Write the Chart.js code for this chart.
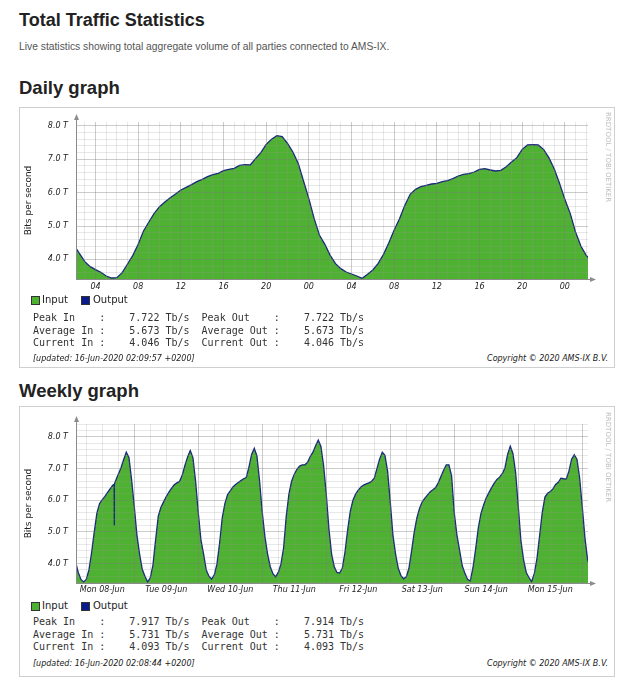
<!DOCTYPE html>
<html>
<head>
<meta charset="utf-8">
<script src="https://cdn.jsdelivr.net/npm/chart.js@4.4.1/dist/chart.umd.min.js"></script>
<style>
  body { margin: 0; background: #fff; font-family: "Liberation Sans", Arial, sans-serif; color: #333; }
  #page { position: relative; width: 641px; height: 680px; overflow: hidden; }
  .abs { position: absolute; white-space: pre; }
  .h1 { font-weight: bold; font-size: 18px; line-height: 20px; color: #222; }
  .sub { font-size: 10.3px; line-height: 14px; color: #555; }
  .h2 { font-weight: bold; font-size: 18.5px; line-height: 24px; color: #222; }
  .box { position: absolute; left: 19px; width: 594px; border: 1px solid #cfcfcf; background: #fff; }
  canvas { position: absolute; left: 19px; }
  .leg { font-family: "DejaVu Sans", sans-serif; font-size: 10px; line-height: 12px; color: #222; }
  .sq { position: absolute; width: 7px; height: 7px; border: 1px solid #333; }
  .stats { font-family: "DejaVu Sans Mono", monospace; font-size: 10px; line-height: 12.7px; color: #333; }
  .foot { font-family: "DejaVu Sans", sans-serif; font-style: italic; font-size: 8px; line-height: 10px; color: #222; }
  .wm { font-family: "DejaVu Sans", sans-serif; font-size: 7px; color: #bdbdbd; writing-mode: vertical-rl; line-height: 7px; }
</style>
</head>
<body>
<div id="page">
  <div class="abs h1" style="left:19px; top:10px;">Total Traffic Statistics</div>
  <div class="abs sub" style="left:19px; top:40px;">Live statistics showing total aggregate volume of all parties connected to AMS-IX.</div>

  <div class="abs h2" style="left:19px; top:76px;">Daily graph</div>
  <div class="box" style="top:107px; height:259px;"></div>
  <canvas id="daily" width="596" height="190" style="top:107px;"></canvas>
  <div class="abs wm" style="left:604px; top:112px;">RRDTOOL / TOBI OETIKER</div>
  <div class="sq" style="left:31px; top:296px; background:#4fb131;"></div>
  <div class="abs leg" style="left:42px; top:294px;">Input</div>
  <div class="sq" style="left:81px; top:296px; background:#0a1a8a;"></div>
  <div class="abs leg" style="left:93px; top:294px;">Output</div>
  <div class="abs stats" id="dailyStats" style="left:33px; top:312px;"></div>
  <div class="abs foot" style="left:33px; top:354px;">[updated: 16-Jun-2020 02:09:57 +0200]</div>
  <div class="abs foot" style="right:33px; top:354px;">Copyright © 2020 AMS-IX B.V.</div>

  <div class="abs h2" style="left:19px; top:379px;">Weekly graph</div>
  <div class="box" style="top:406px; height:269px;"></div>
  <canvas id="weekly" width="596" height="192" style="top:406px;"></canvas>
  <div class="abs wm" style="left:604px; top:412px;">RRDTOOL / TOBI OETIKER</div>
  <div class="sq" style="left:31px; top:602px; background:#4fb131;"></div>
  <div class="abs leg" style="left:42px; top:600px;">Input</div>
  <div class="sq" style="left:81px; top:602px; background:#0a1a8a;"></div>
  <div class="abs leg" style="left:93px; top:600px;">Output</div>
  <div class="abs stats" id="weeklyStats" style="left:33px; top:616px;"></div>
  <div class="abs foot" style="left:33px; top:659px;">[updated: 16-Jun-2020 02:08:44 +0200]</div>
  <div class="abs foot" style="right:33px; top:659px;">Copyright © 2020 AMS-IX B.V.</div>
</div>

<script>
// DAILY: half hour samples, hours counted from 14-Jun 00:00 (Tb/s)
const dailyStart = 2;
const dailyStep = 0.5;
const dailyIn = [
  4.42, 4.17, 3.93, 3.78, 3.69, 3.61, 3.50, 3.44,
  3.45, 3.60, 3.86, 4.12, 4.45, 4.85, 5.12, 5.38,
  5.58, 5.72, 5.85, 5.96, 6.08, 6.16, 6.24, 6.33,
  6.40, 6.48, 6.54, 6.58, 6.66, 6.70, 6.73, 6.82,
  6.84, 6.83, 7.02, 7.20, 7.45, 7.60, 7.71, 7.68,
  7.48, 7.22, 6.88, 6.35, 5.82, 5.22, 4.72, 4.45,
  4.12, 3.87, 3.72, 3.62, 3.56, 3.50, 3.43, 3.55,
  3.68, 3.88, 4.15, 4.50, 4.88, 5.22, 5.62, 5.95,
  6.10, 6.18, 6.22, 6.26, 6.28, 6.33, 6.36, 6.42,
  6.50, 6.55, 6.57, 6.62, 6.70, 6.72, 6.68, 6.65,
  6.67, 6.78, 6.92, 7.05, 7.30, 7.43, 7.44, 7.43,
  7.30, 7.05, 6.72, 6.28, 5.80, 5.38, 4.82, 4.40,
  4.12, 3.95
];
const dailyOut = dailyIn; // output sits right on top of input
const dailyRange = [2.17, 50.17];
const dailyTickHours = [4, 8, 12, 16, 20, 24, 28, 32, 36, 40, 44, 48];
const dailyTickLabels = ['04', '08', '12', '16', '20', '00', '04', '08', '12', '16', '20', '00'];

// WEEKLY: hourly samples, hours counted from 08-Jun 00:00 (Tb/s)
const weeklyStart = 2;
const weeklyStep = 1;
const weeklyIn = [
  // Mon 08 (from 02h)
  4.05, 3.72, 3.50, 3.42, 3.50, 3.80, 4.35, 5.00, 5.60, 5.90, 6.02, 6.12, 6.25, 6.37, 6.48, 6.62, 6.82, 7.02, 7.28, 7.52, 7.35, 6.65,
  // Tue 09
  5.81, 4.90, 4.30, 3.82, 3.60, 3.42, 3.55, 3.95, 4.75, 5.50, 5.78, 5.95, 6.12, 6.26, 6.38, 6.49, 6.55, 6.60, 6.80, 7.10, 7.37, 7.57, 7.35, 6.60,
  // Wed 10
  5.62, 4.75, 4.30, 3.80, 3.60, 3.51, 3.64, 3.98, 4.65, 5.45, 5.90, 6.18, 6.30, 6.42, 6.50, 6.56, 6.62, 6.68, 6.72, 7.05, 7.45, 7.64, 7.40, 6.60,
  // Thu 11
  5.62, 4.85, 4.30, 3.90, 3.68, 3.58, 3.72, 3.98, 4.50, 5.50, 6.20, 6.60, 6.82, 6.98, 7.08, 7.12, 7.12, 7.20, 7.38, 7.52, 7.72, 7.90, 7.70, 7.10,
  // Fri 12
  6.20, 5.10, 4.30, 3.90, 3.72, 3.70, 3.85, 4.35, 5.05, 5.65, 6.00, 6.20, 6.32, 6.42, 6.48, 6.52, 6.55, 6.60, 6.70, 7.00, 7.30, 7.52, 7.42, 6.92,
  // Sat 13
  5.95, 4.90, 4.30, 3.85, 3.62, 3.52, 3.58, 3.85, 4.40, 5.00, 5.45, 5.75, 5.95, 6.07, 6.17, 6.27, 6.33, 6.40, 6.55, 6.75, 6.95, 7.12, 7.12, 6.77,
  // Sun 14
  5.60, 4.90, 4.42, 3.93, 3.69, 3.50, 3.45, 3.86, 4.45, 5.12, 5.58, 5.85, 6.08, 6.24, 6.40, 6.54, 6.66, 6.73, 6.84, 7.02, 7.45, 7.71, 7.48, 6.88,
  // Mon 15
  5.82, 4.72, 4.12, 3.72, 3.56, 3.43, 3.68, 4.15, 4.88, 5.62, 6.10, 6.22, 6.28, 6.36, 6.50, 6.57, 6.70, 6.68, 6.67, 6.92, 7.30, 7.44, 7.30, 6.72,
  // Tue 16
  5.80, 4.82, 4.12, 3.90
];
const weeklyOut = weeklyIn;
// the short drop on Monday afternoon
const dipHours = [16.45, 16.5, 16.55];
const dipValues = [6.50, 5.20, 6.51];
const weeklyRange = [2.15, 194.15];
const weeklyTickHours = [12, 36, 60, 84, 108, 132, 156, 180];
const weeklyTickLabels = ['Mon 08-Jun', 'Tue 09-Jun', 'Wed 10-Jun', 'Thu 11-Jun', 'Fri 12-Jun', 'Sat 13-Jun', 'Sun 14-Jun', 'Mon 15-Jun'];

// y axis
const yTickValues = [4, 5, 6, 7, 8];
const yTickLabels = ['4.0 T', '5.0 T', '6.0 T', '7.0 T', '8.0 T'];

// stats text
const dailyStatLines = [
  'Peak In    :    7.722 Tb/s  Peak Out    :    7.722 Tb/s',
  'Average In :    5.673 Tb/s  Average Out :    5.673 Tb/s',
  'Current In :    4.046 Tb/s  Current Out :    4.046 Tb/s'
];
const weeklyStatLines = [
  'Peak In    :    7.917 Tb/s  Peak Out    :    7.914 Tb/s',
  'Average In :    5.731 Tb/s  Average Out :    5.731 Tb/s',
  'Current In :    4.093 Tb/s  Current Out :    4.093 Tb/s'
];

document.getElementById('dailyStats').textContent = dailyStatLines.join('\n');
document.getElementById('weeklyStats').textContent = weeklyStatLines.join('\n');

const GREEN = '#4fb131';
const NAVY = '#1b2a7a';
const MINOR = 'rgba(150,150,150,0.22)';
const MAJOR = 'rgba(120,120,120,0.38)';

function toPoints(start, step, values, extraX, extraY) {
  const pts = values.map((v, i) => ({ x: start + i * step, y: v }));
  (extraX || []).forEach((x, i) => pts.push({ x: x, y: extraY[i] }));
  pts.sort((a, b) => a.x - b.x);
  return pts;
}

// axis arrows like rrdtool
const arrows = {
  id: 'arrows',
  afterDraw(chart) {
    const { ctx, chartArea: a } = chart;
    ctx.save();
    ctx.strokeStyle = '#8c8c8c';
    ctx.fillStyle = '#8c8c8c';
    ctx.lineWidth = 1;
    ctx.beginPath();
    ctx.moveTo(a.left + 0.5, a.bottom + 0.5);
    ctx.lineTo(a.left + 0.5, a.top - 4);
    ctx.moveTo(a.left, a.bottom + 0.5);
    ctx.lineTo(a.right + 4, a.bottom + 0.5);
    ctx.stroke();
    ctx.beginPath();
    ctx.moveTo(a.left + 0.5, a.top - 8);
    ctx.lineTo(a.left - 2, a.top - 2);
    ctx.lineTo(a.left + 3, a.top - 2);
    ctx.fill();
    ctx.beginPath();
    ctx.moveTo(a.right + 8, a.bottom + 0.5);
    ctx.lineTo(a.right + 2, a.bottom - 2);
    ctx.lineTo(a.right + 2, a.bottom + 3);
    ctx.fill();
    ctx.restore();
  }
};

function makeGraph(id, g) {
  const isMinorY = v => Math.abs(v * 5 - Math.round(v * 5)) < 1e-6;
  new Chart(document.getElementById(id), {
    type: 'line',
    data: {
      datasets: [
        { label: 'Input', data: g.inPts, order: 1, fill: 'start', backgroundColor: GREEN, borderWidth: 0, pointRadius: 0 },
        { label: 'Output', data: g.outPts, order: 0, fill: false, borderColor: NAVY, borderWidth: 1.3, pointRadius: 0 }
      ]
    },
    options: {
      responsive: false,
      animation: false,
      layout: { padding: { left: 0, right: 27, top: g.top, bottom: 0 } },
      plugins: { legend: { display: false }, tooltip: { enabled: false } },
      elements: { line: { tension: 0 } },
      scales: {
        x: {
          type: 'linear',
          min: g.range[0],
          max: g.range[1],
          afterBuildTicks: s => {
            const t = [];
            for (let h = Math.ceil(g.range[0] / g.gridStep) * g.gridStep; h <= g.range[1]; h += g.gridStep) t.push({ value: h });
            s.ticks = t;
          },
          afterFit: s => { s.height = g.xAxisH; },
          ticks: {
            autoSkip: false,
            maxRotation: 0,
            padding: g.xPad,
            color: '#222',
            font: { family: 'DejaVu Sans', style: 'italic', size: 8 },
            callback: v => {
              const i = g.tickHours.indexOf(v);
              return i >= 0 ? g.tickLabels[i] : '';
            }
          },
          grid: {
            z: 1,
            drawTicks: false,
            color: c => (c.tick && c.tick.value % g.majorStep === 0) ? MAJOR : MINOR
          },
          border: { display: false }
        },
        y: {
          min: g.yMin,
          max: g.yMax,
          afterBuildTicks: s => {
            const t = [];
            for (let k = Math.ceil(g.yMin * 5 + 0.01); k / 5 <= g.yMax; k++) t.push({ value: k / 5 });
            s.ticks = t;
          },
          afterFit: s => { s.width = 57; },
          ticks: {
            autoSkip: false,
            padding: 8,
            color: '#222',
            font: { family: 'DejaVu Sans', style: 'italic', size: 8 },
            callback: v => {
              const i = yTickValues.findIndex(t => Math.abs(t - v) < 1e-6);
              return i >= 0 ? yTickLabels[i] : '';
            }
          },
          grid: {
            z: 1,
            drawTicks: false,
            color: c => {
              const v = c.tick ? c.tick.value : 0;
              if (!isMinorY(v)) return 'rgba(0,0,0,0)';
              return Math.abs(v - Math.round(v)) < 1e-6 ? MAJOR : MINOR;
            }
          },
          border: { display: false },
          title: {
            display: true,
            text: 'Bits per second',
            color: '#222',
            font: { family: 'DejaVu Sans', size: 9 },
            padding: { top: 4.5, bottom: 0 }
          }
        }
      }
    },
    plugins: [arrows]
  });
}

makeGraph('daily', {
  inPts: toPoints(dailyStart, dailyStep, dailyIn),
  outPts: toPoints(dailyStart, dailyStep, dailyOut),
  range: dailyRange,
  gridStep: 1,
  majorStep: 4,
  tickHours: dailyTickHours,
  tickLabels: dailyTickLabels,
  yMin: 3.41, yMax: 8.12,
  top: 15, xAxisH: 18, xPad: 3
});

makeGraph('weekly', {
  inPts: toPoints(weeklyStart, weeklyStep, weeklyIn, dipHours, dipValues),
  outPts: toPoints(weeklyStart, weeklyStep, weeklyOut, dipHours, dipValues),
  range: weeklyRange,
  gridStep: 6,
  majorStep: 24,
  tickHours: weeklyTickHours,
  tickLabels: weeklyTickLabels,
  yMin: 3.386, yMax: 8.41,
  top: 18, xAxisH: 15, xPad: 2
});
</script>
</body>
</html>
